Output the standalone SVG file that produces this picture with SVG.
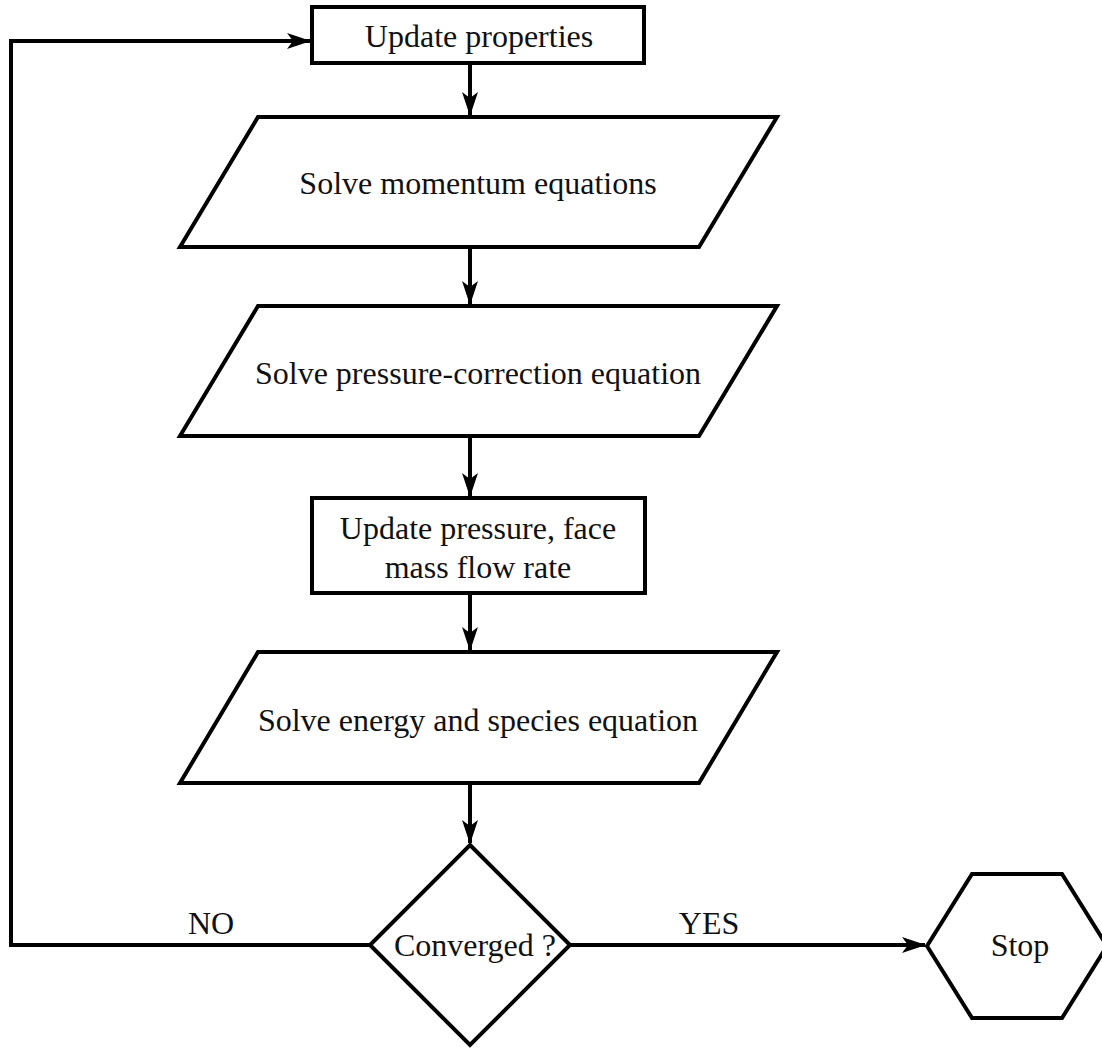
<svg xmlns="http://www.w3.org/2000/svg" width="1102" height="1050" viewBox="0 0 1102 1050">
<style>
.shape{fill:#fff;stroke:#000;stroke-width:4;stroke-linejoin:miter}
.conn{fill:none;stroke:#000;stroke-width:4}
.lbl{font-family:"Liberation Serif","Times New Roman",serif;font-size:32px;fill:#111;text-anchor:middle}
</style>
<defs>
<marker id="ah" viewBox="0 0 24 16" refX="23" refY="8" markerWidth="24" markerHeight="16" markerUnits="userSpaceOnUse" orient="auto">
<path d="M0,0 L24,8 L0,16 L6,8 Z" fill="#000"/>
</marker>
</defs>
<rect width="1102" height="1050" fill="#fff"/>
<g id="connectors">
<line class="conn" x1="470" y1="63" x2="470" y2="115" marker-end="url(#ah)"/>
<line class="conn" x1="470" y1="247" x2="470" y2="304" marker-end="url(#ah)"/>
<line class="conn" x1="470" y1="436" x2="470" y2="496" marker-end="url(#ah)"/>
<line class="conn" x1="470" y1="593" x2="470" y2="650" marker-end="url(#ah)"/>
<line class="conn" x1="470" y1="783" x2="470" y2="843" marker-end="url(#ah)"/>
<polyline class="conn" points="370,945 11,945 11,41 310,41" marker-end="url(#ah)"/>
<line class="conn" x1="570" y1="945" x2="925" y2="945" marker-end="url(#ah)"/>
<text class="lbl" x="211" y="934">NO</text>
<text class="lbl" x="709" y="934">YES</text>
</g>
<g id="update-properties">
<rect class="shape" x="312" y="7" width="332" height="56"/>
<text class="lbl" x="479" y="47">Update properties</text>
</g>
<g id="solve-momentum">
<polygon class="shape" points="258,117 777,117 699,247 180,247"/>
<text class="lbl" x="478" y="194">Solve momentum equations</text>
</g>
<g id="solve-pressure-correction">
<polygon class="shape" points="258,306 777,306 699,436 180,436"/>
<text class="lbl" x="478" y="384">Solve pressure-correction equation</text>
</g>
<g id="update-pressure">
<rect class="shape" x="312" y="498" width="333" height="95"/>
<text class="lbl" x="478" y="539">Update pressure, face</text>
<text class="lbl" x="478" y="578">mass flow rate</text>
</g>
<g id="solve-energy">
<polygon class="shape" points="258,652 777,652 699,783 180,783"/>
<text class="lbl" x="478" y="731">Solve energy and species equation</text>
</g>
<g id="converged">
<polygon class="shape" points="470,845 570,945 470,1045 370,945"/>
<text class="lbl" x="475" y="956">Converged ?</text>
</g>
<g id="stop">
<polygon class="shape" points="927,946 972,874 1062,874 1107,946 1062,1018 972,1018"/>
<text class="lbl" x="1020" y="956">Stop</text>
</g>
</svg>
